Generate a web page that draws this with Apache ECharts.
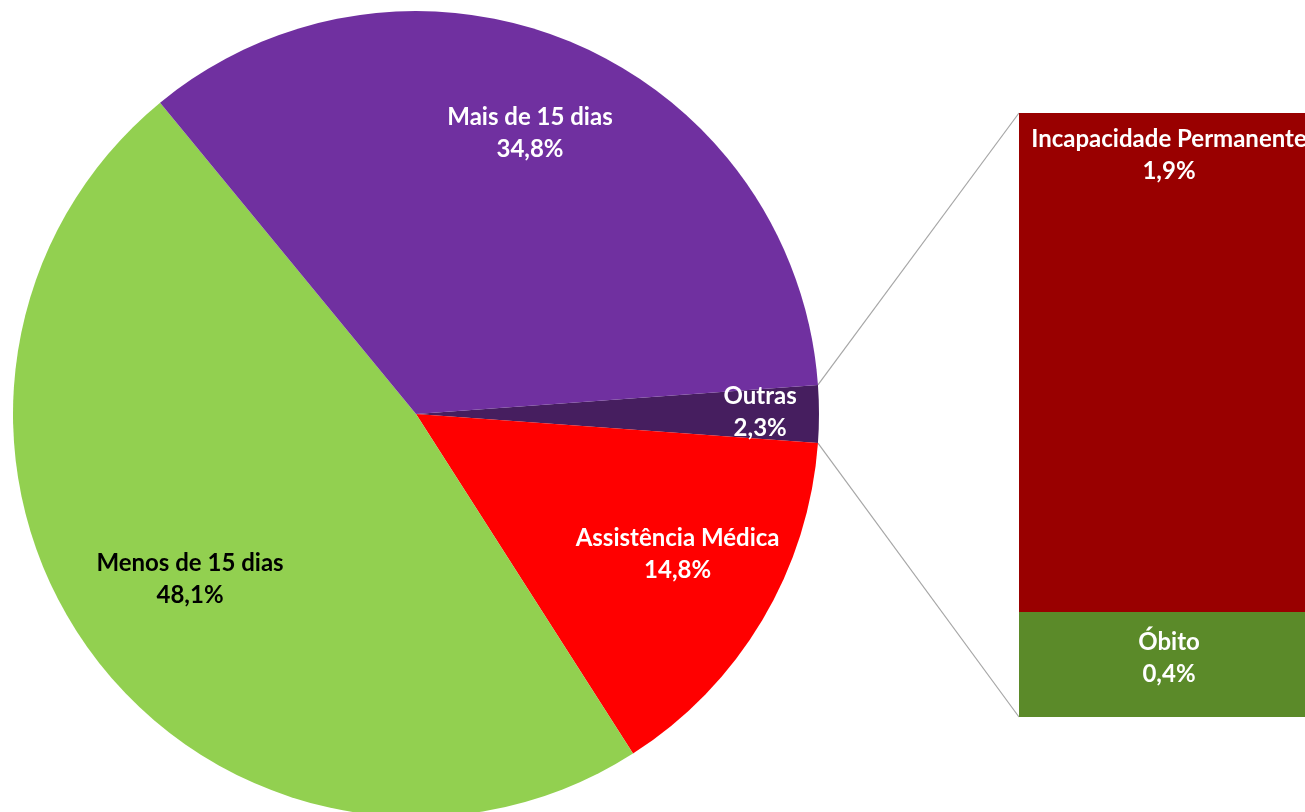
<!DOCTYPE html>
<html>
<head>
<meta charset="utf-8">
<script src="https://cdn.jsdelivr.net/npm/echarts@6/dist/echarts.min.js"></script>
<style>
  html, body { margin: 0; padding: 0; background: #fff; overflow: hidden; }
  #chart { width: 1330px; height: 812px; }
</style>
</head>
<body>
<div id="chart"></div>
<script>
// pie data (order: Outras first, then clockwise)
const pieNames = ["Outras", "Assistência Médica", "Menos de 15 dias", "Mais de 15 dias"];
const pieValues = [2.3, 14.8, 48.1, 34.8];
const pieColors = ["#461E5F", "#FF0000", "#92D050", "#7030A0"];

// breakdown of "Outras"
const barNames = ["Óbito", "Incapacidade Permanente"];
const barValues = [0.4, 1.9];
const barColors = ["#5B8A29", "#990000"];

const fmt = (v) => v.toFixed(1).replace(".", ",") + "%";

const cx = 416, cy = 414, R = 403;
const barBox = { left: 1019, top: 113, width: 300, height: 604 };
// where each pie label sits: [fraction along the slice, fraction of radius]
const labelAt = [[0.46, 0.854], [0.453, 0.737], [0.4994, 0.694], [0.491, 0.752]];

const total = pieValues.reduce((a, b) => a + b, 0);
const startAngle = (360 * pieValues[0]) / total / 2;

function sliceAngle(i, frac) {
  let cum = 0;
  for (let k = 0; k < i; k++) cum += pieValues[k];
  return startAngle - (360 * (cum + pieValues[i] * frac)) / total;
}
function polar(deg, r) {
  const a = (deg * Math.PI) / 180;
  return [cx + r * Math.cos(a), cy - r * Math.sin(a)];
}

const chart = echarts.init(document.getElementById("chart"));

const labelFont = { fontFamily: "Lato", fontWeight: "bold", fontSize: 24, lineHeight: 32 };

const p1 = polar(startAngle, R);
const p2 = polar(sliceAngle(0, 1), R);

chart.setOption({
  animation: false,
  grid: { left: barBox.left, top: barBox.top, width: barBox.width, height: barBox.height },
  xAxis: { type: "category", data: ["Outras"], show: false },
  yAxis: { type: "value", min: 0, max: barValues.reduce((a, b) => a + b, 0), show: false },
  graphic: [
    { type: "line", shape: { x1: p1[0], y1: p1[1], x2: barBox.left, y2: barBox.top },
      style: { stroke: "#A6A6A6", lineWidth: 1.2 }, z: 1 },
    { type: "line", shape: { x1: p2[0], y1: p2[1], x2: barBox.left, y2: barBox.top + barBox.height },
      style: { stroke: "#A6A6A6", lineWidth: 1.2 }, z: 1 }
  ],
  series: [
    {
      type: "pie",
      center: [cx, cy],
      radius: R,
      startAngle: startAngle,
      clockwise: true,
      data: pieNames.map((n, i) => ({
        name: n,
        value: pieValues[i],
        itemStyle: { color: pieColors[i] },
        label: { color: i === 2 ? "#000" : "#fff" }
      })),
      label: Object.assign({
        show: true,
        position: "inside",
        formatter: (p) => p.name + "\n" + fmt(p.value)
      }, labelFont),
      labelLine: { show: false },
      labelLayout: (p) => {
        const pos = labelAt[p.dataIndex];
        const pt = polar(sliceAngle(p.dataIndex, pos[0]), R * pos[1]);
        return { x: pt[0], y: pt[1], align: "center", verticalAlign: "middle" };
      },
      emphasis: { disabled: true }
    },
    ...barNames.map((n, i) => ({
      type: "bar",
      name: n,
      stack: "outras",
      barWidth: "100%",
      data: [barValues[i]],
      itemStyle: { color: barColors[i] },
      label: Object.assign({
        show: true,
        color: "#fff",
        position: i === 1 ? "insideTop" : "inside",
        distance: i === 1 ? 10 : 5,
        offset: i === 0 ? [0, -6] : [0, 0],
        formatter: () => n + "\n" + fmt(barValues[i])
      }, labelFont),
      emphasis: { disabled: true }
    }))
  ]
});
</script>
</body>
</html>
